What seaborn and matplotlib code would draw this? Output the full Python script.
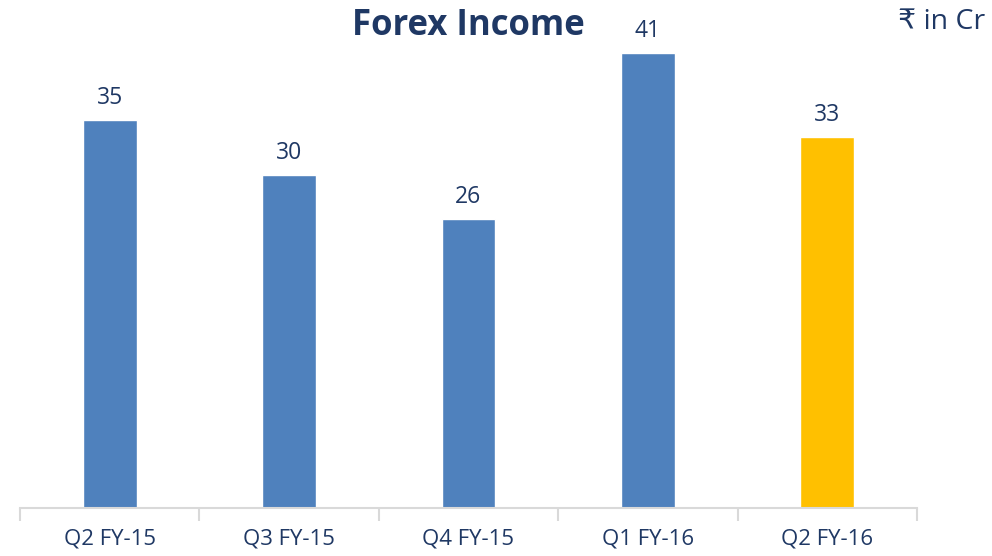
import matplotlib
matplotlib.use("Agg")
import matplotlib.pyplot as plt
import seaborn as sns
import pandas as pd

quarters = ["Q2 FY-15", "Q3 FY-15", "Q4 FY-15", "Q1 FY-16", "Q2 FY-16"]
income = [35, 30, 26, 41, 33.4]
bar_colors = ["#4F81BD", "#4F81BD", "#4F81BD", "#4F81BD", "#FFC000"]

df = pd.DataFrame({"quarter": quarters, "income": income})

sns.set_theme(style="white")
plt.rcParams["font.family"] = ["Open Sans", "DejaVu Sans"]
navy = "#1F3864"

fig = plt.figure(figsize=(9.92, 5.56), dpi=100)
ax = fig.add_axes([20 / 992, 48 / 556, 897 / 992, 499.5 / 556])

sns.barplot(data=df, x="quarter", y="income", hue="quarter", palette=bar_colors,
            width=0.3, legend=False, ax=ax, saturation=1)

for i, v in enumerate(income):
    ax.text(i, v + 0.9, f"{v:.0f}", ha="center", va="bottom", fontsize=16.5, color=navy)

ax.set_ylim(0, 45)
ax.set_xlim(-0.5, len(quarters) - 0.5)
ax.set_xlabel("")
ax.set_ylabel("")
ax.set_yticks([])
for s in ["top", "right", "left"]:
    ax.spines[s].set_visible(False)
ax.spines["bottom"].set_color("#D9D9D9")
ax.spines["bottom"].set_linewidth(1.5)

ax.set_xticks(range(len(quarters)))
ax.set_xticklabels(quarters, fontsize=16, color=navy)
ax.tick_params(axis="x", length=0, pad=15)
ax.set_xticks([i - 0.5 for i in range(len(quarters) + 1)], minor=True)
ax.tick_params(axis="x", which="minor", length=9, width=1.5, color="#D9D9D9",
               direction="out", bottom=True)

fig.text(468.5 / 992, 1 - 26 / 556, "Forex Income", ha="center", va="center",
         fontsize=25, fontweight="bold", color=navy)
fig.text(985 / 992, 1 - 22 / 556, "₹ in Cr", ha="right", va="center",
         fontsize=20.5, color=navy)

fig.savefig("out.png", dpi=100)
